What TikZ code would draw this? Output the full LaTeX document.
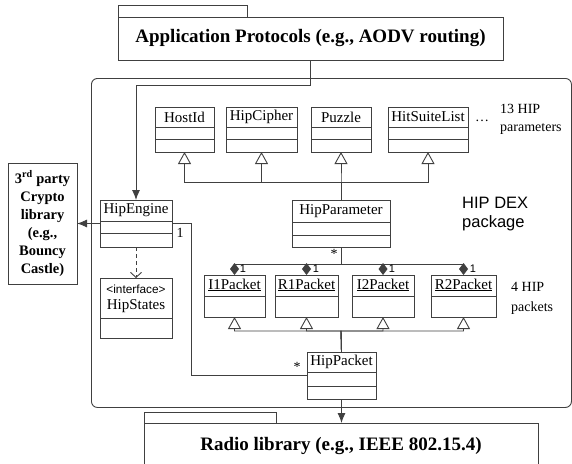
\documentclass[tikz,border=0pt]{standalone}
\usepackage{fontspec}
\setmainfont{Liberation Serif}
\setsansfont{Liberation Sans}
\usetikzlibrary{arrows.meta}
\tikzset{
  ln/.style={draw=black!75, line width=0.9pt},
  box/.style={ln, fill=white, inner sep=0pt, outer sep=0pt},
  cname/.style={inner sep=0pt, font=\fontsize{15}{18}\selectfont},
  gen/.style={ln, -{Triangle[open, length=12pt, width=13pt]}},
  comp/.style={ln, -{Diamond[length=12pt, width=9pt]}},
  assoc/.style={ln, -{Latex[length=10pt, width=8pt]}},
  dep/.style={ln, dashed, dash pattern=on 4pt off 3pt, -{Straight Barb[length=5pt, width=11pt]}},
  bigtext/.style={font=\bfseries\fontsize{19}{22}\selectfont},
  note/.style={inner sep=0pt, align=left, anchor=west},
  mult/.style={inner sep=0pt, font=\sffamily\fontsize{11}{12}\selectfont},
}
\newcommand\umlcls[8]{% name, x1, y1, x2, y2, separators, header y, text
  \node[box, anchor=north west, minimum width={#4pt-#2pt}, minimum height={#5pt-#3pt}] (#1) at (#2,#3) {};
  \foreach \s in {#6} {\draw[ln] (#2,\s) -- (#4,\s);}
  \node[cname] (#1-name) at ({(#2+#4)/2},#7) {#8};
}
\begin{document}
\begin{tikzpicture}[x=1pt,y=-1pt]
\useasboundingbox (0,0) rectangle (572,463);

% package frame
\node[ln, rounded corners=6pt, inner sep=0pt, anchor=north west, minimum width=480pt, minimum height=329pt] (pkg) at (91,78) {};

% application protocols
\node[box, anchor=north west, minimum width=129pt, minimum height=12pt] (apptab) at (118,5) {};
\node[box, anchor=north west, minimum width=385pt, minimum height=43pt, bigtext] (app) at (118,17) {Application Protocols (e.g., AODV routing)};

% radio library
\node[box, anchor=north west, minimum width=132pt, minimum height=11pt] (radiotab) at (144,412) {};
\node[box, anchor=north west, minimum width=394pt, minimum height=45pt, bigtext] (radio) at (144,423) {Radio library (e.g., IEEE 802.15.4)};

% crypto library
\node[box, anchor=north west, minimum width=69pt, minimum height=121pt, align=center,
      font=\bfseries\fontsize{14.5}{18}\selectfont] (crypto) at (8,163)
  {3\textsuperscript{rd} party\\Crypto\\library\\(e.g.,\\Bouncy\\Castle)};

% parameter classes
\umlcls{hostid}{155}{107}{214}{152}{127,139}{117}{HostId}
\umlcls{hipcipher}{226}{107}{297}{152}{127,139}{117}{HipCipher}
\umlcls{puzzle}{311}{107}{371}{152}{127,139}{117}{Puzzle}
\umlcls{hitsuite}{388}{107}{468}{152}{127,139}{117}{HitSuiteList}
\umlcls{hp}{292}{200}{390}{247}{222,235}{211}{HipParameter}
\umlcls{he}{100}{200}{172}{247}{221,233}{210.5}{HipEngine}

% packets
\umlcls{i1}{204}{275}{265}{317}{296}{285}{\underline{I1Packet}}
\umlcls{r1}{275}{275}{338}{317}{296}{285}{\underline{R1Packet}}
\umlcls{i2}{352}{275}{414}{317}{296}{285}{\underline{I2Packet}}
\umlcls{r2}{431}{275}{496}{317}{296}{285}{\underline{R2Packet}}
\umlcls{hpk}{307}{352}{376}{399}{372,386}{362}{HipPacket}

% HipStates interface
\node[box, anchor=north west, minimum width=72pt, minimum height=60pt] (hs) at (100,278) {};
\draw[ln] (100,318) -- (172,318);
\node[inner sep=0pt, font=\sffamily\fontsize{11.8}{13}\selectfont] (hs-st) at (136,289) {\textless interface\textgreater};
\node[cname] (hs-name) at (136,306) {HipStates};

% junction coordinates
\coordinate (hj) at (341,182);
\coordinate (cj) at (341,264);
\coordinate (pj) at (341,331);

% generalizations of parameters
\foreach \c in {hostid,hipcipher,puzzle,hitsuite} {\draw[gen] (hp.north) -- (hj) -| (\c.south);}
% compositions
\foreach \c in {i1,r1,i2,r2} {\draw[comp] (hp.south) -- (cj) -| (\c.north);}
% generalizations of packets
\foreach \c in {i1,r1,i2,r2} {\draw[gen] (hpk.north) -- (pj) -| (\c.south);}

% other connectors
\draw[assoc] (app.south) -- ++(0,25) -| (he.north);
\draw[assoc] (he.west) -- (crypto.east);
\draw[ln] (he.east) -- ++(19,0) |- (hpk.west);
\draw[dep] (he.south) -- (hs.north);
\draw[assoc] (hpk.south) -- (radio.north -| hpk.south);

% multiplicities
\node[inner sep=0pt, font=\fontsize{14}{16}\selectfont] (m-he) at (180,233) {1};
\node[inner sep=0pt, font=\fontsize{14}{14}\selectfont] (m-hp) at (334,254) {*};
\node[inner sep=0pt, font=\fontsize{14}{14}\selectfont] (m-hpk) at (297,367) {*};
\node[mult] (m-i1) at (243,269) {1};
\node[mult] (m-r1) at (316,269) {1};
\node[mult] (m-i2) at (392,269) {1};
\node[mult] (m-r2) at (473,269) {1};

% notes
\node[inner sep=0pt, font=\fontsize{14}{14}\selectfont] (dots) at (482,121) {\ldots};
\node[note, font=\fontsize{14}{18}\selectfont] (n13) at (500,119) {13 HIP\\parameters};
\node[note, font=\sffamily\fontsize{16.5}{19}\selectfont] (ndex) at (462,214) {HIP DEX\\package};
\node[note, font=\fontsize{14}{20}\selectfont] (n4) at (511,298) {4 HIP\\packets};
\end{tikzpicture}
\end{document}
